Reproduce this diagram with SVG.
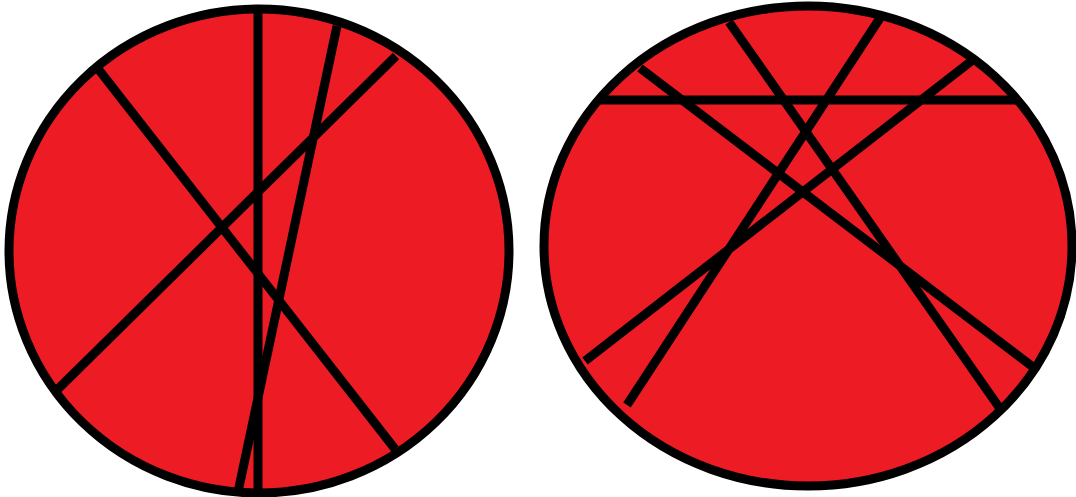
<svg xmlns="http://www.w3.org/2000/svg" width="1076" height="497" viewBox="0 0 1076 497">
<style>
.disc{fill:#ED1C24;stroke:#000;stroke-width:9}
.ln{stroke:#000;stroke-width:9;stroke-linecap:butt;fill:none}
</style>
<rect width="1076" height="497" fill="#fff"/>
<g id="left">
<ellipse class="disc" cx="259" cy="251" rx="250" ry="242"/>
<line class="ln" x1="258" y1="10" x2="258" y2="492"/>
<line class="ln" x1="337" y1="26" x2="238" y2="492"/>
<line class="ln" x1="396" y1="56" x2="58" y2="389"/>
<line class="ln" x1="99" y1="70" x2="395" y2="449"/>
</g>
<g id="right">
<ellipse class="disc" cx="808" cy="246" rx="264" ry="240"/>
<line class="ln" x1="600" y1="100" x2="1017" y2="100"/>
<line class="ln" x1="640" y1="68" x2="1033" y2="367"/>
<line class="ln" x1="729" y1="22" x2="1001" y2="410"/>
<line class="ln" x1="880" y1="18" x2="627" y2="405"/>
<line class="ln" x1="974" y1="59" x2="585" y2="361"/>
</g>
</svg>
